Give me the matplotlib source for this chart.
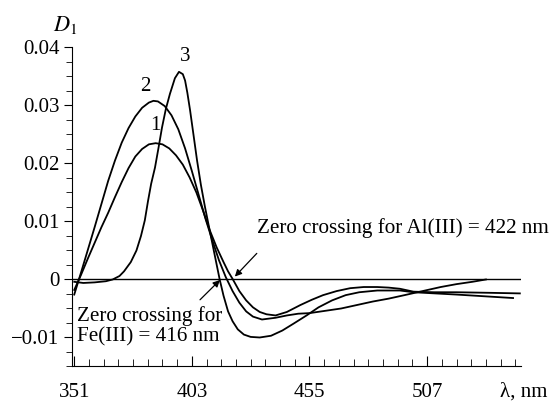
import matplotlib.pyplot as plt
from matplotlib.ticker import MultipleLocator, FixedLocator

plt.rcParams['font.family'] = ['Liberation Serif', 'DejaVu Serif']
plt.rcParams['mathtext.fontset'] = 'stix'
plt.rcParams['font.size'] = 15

# first-derivative spectra, D1 vs wavelength (nm)
wl_1 = [351, 354, 357, 360, 363, 366, 369, 372, 375, 378, 381, 384, 387, 390,
        393, 396, 399, 402, 405, 408, 411, 414, 417, 419, 421, 424, 427, 430,
        433, 436, 440, 445, 451, 456, 461, 467, 473, 479, 485, 490, 495, 501,
        510, 520, 535, 548]
d_1 = [-0.0018, 0.0008, 0.0036, 0.0063, 0.0090, 0.0115, 0.0142, 0.0168, 0.0192,
       0.0212, 0.0225, 0.0233, 0.0235, 0.0233, 0.0226, 0.0214, 0.0198, 0.0176,
       0.0150, 0.0118, 0.0084, 0.0055, 0.0030, 0.0014, 0.0001, -0.0020, -0.0036,
       -0.0048, -0.0056, -0.0060, -0.0062, -0.0056, -0.0044, -0.0035, -0.0027,
       -0.0020, -0.0015, -0.0013, -0.0013, -0.0014, -0.0016, -0.0021, -0.0022,
       -0.0022, -0.0023, -0.0024]

wl_2 = [351, 354, 357, 360, 363, 366, 369, 372, 375, 378, 381, 384, 386, 388,
        391, 394, 397, 400, 403, 406, 409, 412, 415, 418, 421, 424, 427, 430,
        434, 440, 445, 450, 455, 462, 469, 476, 483, 490, 497, 505, 513, 520,
        527, 533]
d_2 = [-0.0026, 0.0012, 0.0051, 0.0090, 0.0130, 0.0170, 0.0205, 0.0236, 0.0261,
       0.0281, 0.0296, 0.0305, 0.0308, 0.0307, 0.0299, 0.0283, 0.0259, 0.0226,
       0.0187, 0.0146, 0.0105, 0.0068, 0.0033, 0.0004, -0.0020, -0.0040,
       -0.0055, -0.0064, -0.0069, -0.0066, -0.0062, -0.0059, -0.0058, -0.0054,
       -0.0050, -0.0044, -0.0038, -0.0033, -0.0027, -0.0020, -0.0013, -0.0008,
       -0.0004, 0.0000]

wl_3 = [351, 355, 360, 365, 368, 371, 373, 376, 378.5, 380.5, 382.2, 383.6,
        385, 386.7, 388.3, 389.8, 391.5, 393.3, 395.5, 397.3, 399, 400, 401,
        402.2, 403.7, 405.3, 407, 408.8, 410.5, 413, 415.3, 417, 419, 421,
        423.3, 426, 429, 433, 438, 443, 448, 453.7, 459, 465, 471, 477, 485,
        495, 501, 520, 545]
d_3 = [-0.0004, -0.0006, -0.0005, -0.0003, 0.0000, 0.0006, 0.0014, 0.0030,
       0.0050, 0.0075, 0.0102, 0.0135, 0.0165, 0.0193, 0.0228, 0.0262, 0.0294,
       0.0320, 0.0347, 0.0358, 0.0354, 0.0343, 0.0322, 0.0292, 0.0250, 0.0205,
       0.0163, 0.0125, 0.0092, 0.0044, 0.0000, -0.0028, -0.0055, -0.0072,
       -0.0086, -0.0095, -0.0099, -0.0100, -0.0097, -0.0088, -0.0076, -0.0062,
       -0.0048, -0.0036, -0.0027, -0.0022, -0.0019, -0.0019, -0.0022, -0.0026,
       -0.0032]

curve_labels = ['1', '2', '3']
label_pos = [(386.7, 0.0265), (382.3, 0.0332), (400.0, 0.0384)]

x_ticks = [351, 403, 455, 507]
y_ticks = [-0.01, 0, 0.01, 0.02, 0.03, 0.04]
y_tick_labels = ['\u22120.01', '0', '0.01', '0.02', '0.03', '0.04']

fig = plt.figure(figsize=(5.55, 4.03), dpi=100)
ax = fig.add_axes([0.1297, 0.0906, 0.809, 0.7916])

for wl, d in [(wl_1, d_1), (wl_2, d_2), (wl_3, d_3)]:
    ax.plot(wl, d, color='black', lw=1.3)
ax.axhline(0, color='black', lw=1.0)

for lab, (x, y) in zip(curve_labels, label_pos):
    ax.text(x, y, lab, ha='center', va='center', fontsize=15)

ax.set_xlim(350, 548.5)
ax.set_ylim(-0.015, 0.04)

ax.spines['top'].set_visible(False)
ax.spines['right'].set_visible(False)

ax.xaxis.set_major_locator(FixedLocator(x_ticks))
ax.xaxis.set_minor_locator(MultipleLocator(6.5))
ax.set_yticks(y_ticks)
ax.set_yticklabels(y_tick_labels)
ax.yaxis.set_minor_locator(MultipleLocator(0.0025))

ax.tick_params(axis='x', which='both', direction='in', pad=12, labelsize=15)
ax.tick_params(axis='x', which='major', length=7)
ax.tick_params(axis='x', which='minor', length=5)
ax.tick_params(axis='y', which='both', direction='out', pad=3, labelsize=15)
ax.tick_params(axis='y', which='major', length=6)
ax.tick_params(axis='y', which='minor', length=4)

arrow = dict(arrowstyle='-|>', color='black', lw=0.9, mutation_scale=10,
             shrinkA=0, shrinkB=0)
ax.text(431.8, 0.0089, 'Zero crossing for Al(III) = 422 nm', ha='left',
        va='center', fontsize=15.2)
ax.annotate('', xy=(422.0, 0.0005), xytext=(431.7, 0.0045), arrowprops=arrow)
ax.text(352.2, -0.0080, 'Zero crossing for\nFe(III) = 416 nm', ha='left',
        va='center', fontsize=15.2, linespacing=1.1)
ax.annotate('', xy=(415.4, -0.0001), xytext=(406.6, -0.0035), arrowprops=arrow)

fig.text(0.117, 0.938, r'$D_1$', ha='center', va='center', fontsize=16)
fig.text(0.944, 0.027, '\u03bb, nm', ha='center', va='center', fontsize=15)

fig.savefig('out.png', dpi=100)
